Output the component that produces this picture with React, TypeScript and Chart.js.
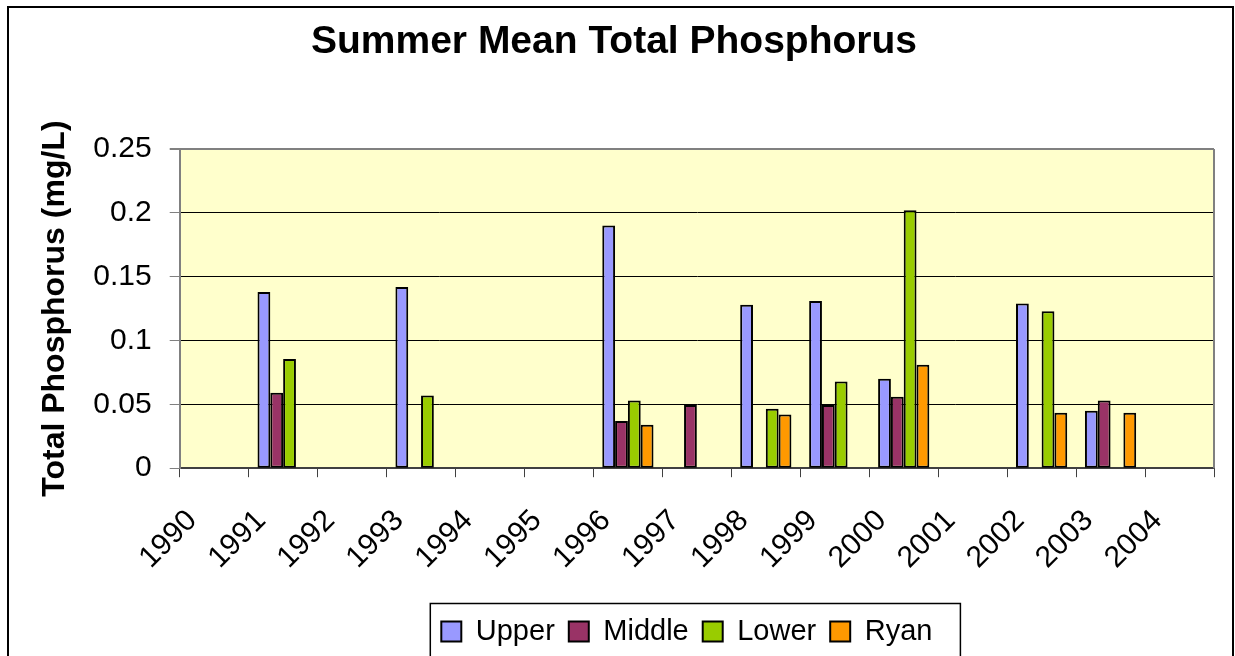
import React, { useEffect, useRef } from 'react';
import { Chart, registerables } from 'chart.js';

Chart.register(...registerables);

const years = ['1990', '1991', '1992', '1993', '1994', '1995', '1996', '1997', '1998', '1999', '2000', '2001', '2002', '2003', '2004'];
const upper = [null, 0.138, null, 0.142, null, null, 0.19, null, 0.128, 0.131, 0.07, null, 0.129, 0.045, null];
const middle = [null, 0.059, null, null, null, null, 0.037, 0.0495, null, 0.0495, 0.056, null, null, 0.053, null];
const lower = [null, 0.0855, null, 0.057, null, null, 0.053, null, 0.0465, 0.068, 0.202, null, 0.123, null, null];
const ryan = [null, null, null, null, null, null, 0.034, null, 0.042, null, 0.081, null, 0.0435, 0.0435, null];
const yTickLabels = ['0', '0.05', '0.1', '0.15', '0.2', '0.25'];
const seriesNames = ['Upper', 'Middle', 'Lower', 'Ryan'];
const seriesColors = ['#9999FF', '#993366', '#99CC00', '#FF9900'];

const FONT = "'Liberation Sans', Arial, sans-serif";

const framePlugin = {
  id: 'excelFrame',
  afterLayout(chart: any) {
    const lg = chart.legend;
    if (lg) {
      lg.left -= 10;
      lg.right -= 10;
    }
  },
  beforeDraw(chart: any) {
    const { ctx, chartArea: a } = chart;
    ctx.save();
    ctx.fillStyle = '#ffffff';
    ctx.fillRect(0, 0, chart.width, chart.height);
    ctx.fillStyle = '#FFFFCC';
    ctx.fillRect(a.left, a.top, a.right - a.left, a.bottom - a.top);
    ctx.strokeStyle = '#000000';
    ctx.lineWidth = 2;
    ctx.strokeRect(8, 7, 1225, 700);
    ctx.restore();
  },
  afterDatasetsDraw(chart: any) {
    const { ctx, chartArea: a } = chart;
    ctx.save();
    ctx.strokeStyle = '#808080';
    ctx.lineWidth = 2;
    ctx.beginPath();
    ctx.moveTo(a.right, a.top);
    ctx.lineTo(a.right, a.bottom);
    ctx.stroke();
    ctx.restore();
  },
  afterDraw(chart: any) {
    const lg = chart.legend;
    if (!lg || !lg.legendHitBoxes || !lg.legendHitBoxes.length) return;
    const boxes = lg.legendHitBoxes;
    let minL = Infinity;
    let maxR = -Infinity;
    boxes.forEach((b: any) => {
      minL = Math.min(minL, b.left);
      maxR = Math.max(maxR, b.left + b.width);
    });
    const { ctx } = chart;
    ctx.save();
    ctx.strokeStyle = '#000000';
    ctx.lineWidth = 1.5;
    ctx.strokeRect(minL - 11, lg.top + 0.5, maxR - minL + 11 + 28, 100);
    ctx.restore();
  },
};

export default function App() {
  const canvasRef = useRef<HTMLCanvasElement | null>(null);

  useEffect(() => {
    document.body.style.margin = '0';
    document.body.style.overflow = 'hidden';
    const canvas = canvasRef.current;
    if (!canvas) return;
    Chart.defaults.font.family = FONT;
    Chart.defaults.color = '#000000';

    const data = [upper, middle, lower, ryan];
    const chart = new Chart(canvas, {
      type: 'bar',
      data: {
        labels: years,
        datasets: seriesNames.map((name, i) => ({
          label: name,
          data: data[i],
          backgroundColor: seriesColors[i],
          borderColor: '#000000',
          borderWidth: 2,
          borderSkipped: false,
          categoryPercentage: 0.743,
          barPercentage: 1.0,
        })),
      },
      options: {
        responsive: false,
        animation: false,
        devicePixelRatio: 1,
        layout: { padding: { top: 0, left: 14, right: 21, bottom: 0 } },
        plugins: {
          title: {
            display: true,
            text: 'Summer Mean Total Phosphorus',
            color: '#000000',
            font: { family: FONT, size: 39, weight: 'bold' },
            padding: { top: 18.6, bottom: 83.6 },
          },
          legend: {
            display: true,
            position: 'bottom',
            fullSize: false,
            maxHeight: 53.5,
            labels: {
              boxWidth: 20,
              boxHeight: 20,
              padding: 14,
              color: '#000000',
              font: { family: FONT, size: 29 },
            },
          },
          tooltip: { enabled: false },
        },
        scales: {
          x: {
            type: 'category',
            afterFit(scale: any) {
              scale.height = 134.8;
            },
            grid: {
              offset: true,
              drawOnChartArea: false,
              drawTicks: true,
              tickLength: 9,
              tickColor: '#404040',
              lineWidth: 1,
            },
            border: { color: '#404040', width: 2 },
            ticks: {
              autoSkip: false,
              minRotation: 45,
              maxRotation: 45,
              labelOffset: -22,
              padding: 26,
              color: '#000000',
              font: { family: FONT, size: 30 },
            },
          },
          y: {
            min: 0,
            max: 0.25,
            afterFit(scale: any) {
              scale.width = 165.7;
            },
            grid: {
              color: (c: any) => (c.index === 5 ? '#808080' : '#000000'),
              lineWidth: (c: any) => (c.index === 5 ? 2 : 1),
              tickColor: '#808080',
              tickLength: 10,
              drawTicks: true,
            },
            border: { color: '#808080', width: 2 },
            ticks: {
              stepSize: 0.05,
              padding: 18,
              color: '#000000',
              font: { family: FONT, size: 30 },
              callback: (_v: any, i: number) => yTickLabels[i],
            },
            title: {
              display: true,
              text: 'Total Phosphorus (mg/L)',
              color: '#000000',
              font: { family: FONT, size: 32, weight: 'bold' },
              padding: { top: 21.8, bottom: 0 },
            },
          },
        },
      },
      plugins: [framePlugin],
    } as any);

    return () => {
      chart.destroy();
    };
  }, []);

  return (
    <div style={{ width: 1235, height: 656, overflow: 'hidden' }}>
      <canvas ref={canvasRef} width={1235} height={656} style={{ display: 'block' }} />
    </div>
  );
}
